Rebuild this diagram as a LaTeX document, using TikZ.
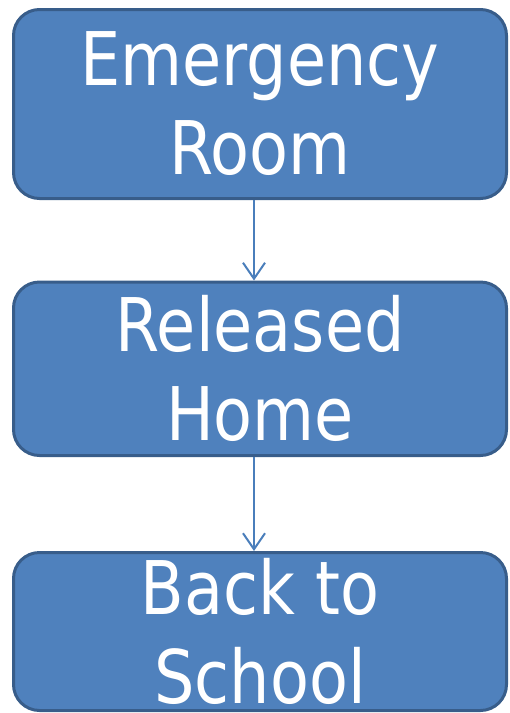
\documentclass[tikz,border=0pt]{standalone}
\usepackage{fontspec}
\setmainfont{DejaVu Sans}[FakeStretch=0.86]
\usetikzlibrary{arrows.meta}
\definecolor{boxfill}{HTML}{4F81BD}
\definecolor{boxline}{HTML}{385D8A}
\definecolor{arrowline}{HTML}{4A7EBB}

\begin{document}
\begin{tikzpicture}[x=1pt, y=-1pt,
  stagebox/.style={rectangle, draw=boxline, fill=boxfill, line width=3pt, rounded corners=26pt,
    text=white, align=center, inner sep=0pt, minimum width=493pt,
    font=\fontsize{74}{89}\selectfont},
  flowarrow/.style={draw=arrowline, line width=2pt, -{Straight Barb[length=16pt, width=22pt, line width=2pt]}}]
  \useasboundingbox (0,0) rectangle (510,713);

  % Nodes
  \node[stagebox, minimum height=189pt] (er) at (260,104) {Emergency\\Room};
  \node[stagebox, minimum height=173.5pt] (home) at (260,368.75) {Released\\Home};
  \node[stagebox, minimum height=158pt] (school) at (260,631.5) {Back to\\School};

  % Arrows
  \draw[flowarrow] ([xshift=-6pt]er.south) -- ([xshift=-6pt]home.north);
  \draw[flowarrow] ([xshift=-6pt]home.south) -- ([xshift=-6pt]school.north);

\end{tikzpicture}
\end{document}
